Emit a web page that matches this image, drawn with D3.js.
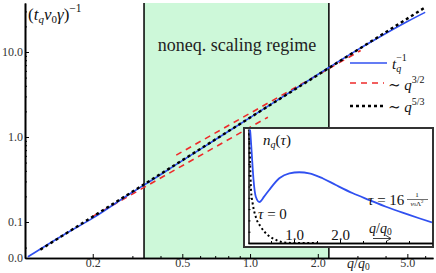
<!DOCTYPE html>
<html><head><meta charset="utf-8">
<script src="https://cdn.jsdelivr.net/npm/d3@7"></script>
<style>body{margin:0;background:#fff}svg{display:block}text{font-family:"Liberation Serif","DejaVu Serif",serif}</style>
</head><body><svg id="c" width="436" height="273"></svg>
<script>
// ---- main curve t_q^{-1} ----
const rateQ = [0.103, 0.15, 0.2, 0.3, 0.338, 0.5, 0.7, 1.0, 1.5, 2.24, 3.0, 3.78, 5.0, 6.0];
const rateV = [0.0389, 0.0718, 0.111, 0.224, 0.272, 0.527, 0.927, 1.69, 3.35, 6.57, 10.6, 15.1, 22.8, 29.3];
// ---- power-law guides (end points) ----
const fitLowQ = [0.2, 1.2],   fitLowV = [0.116, 1.71];   // ~q^{3/2}
const fitHighQ = [0.47, 3.1], fitHighV = [0.612, 10.4];  // ~q^{3/2}
const fit53Q = [0.117, 6.0],  fit53V = [0.0473, 33.5];   // ~q^{5/3}
const regime = [0.338, 2.24];
// ---- ticks ----
const xDomain = [0.1, 6.5];
const yDomain = [0.0377, 37.7];
const xTickVals = [0.2, 0.5, 1, 2, 5];
const xTickLabels = ["0.2", "0.5", "1.0", "2.0", "5.0"];
const xMinor = [0.3, 0.4, 0.6, 0.7, 0.8, 0.9, 3, 4, 6];
const yTickVals = [0.0377, 0.1, 1, 10];
const yTickLabels = ["0.0", "0.1", "1.0", "10.0"];
const yMinor = [0.05, 0.2, 0.3, 0.4, 0.5, 0.6, 0.7, 0.8, 0.9, 2, 3, 4, 5, 6, 7, 8, 9, 20, 30];
// ---- inset n_q(tau) ----
const insetBlueQ = [0.03, 0.05, 0.08, 0.12, 0.17, 0.25, 0.35, 0.46, 0.68, 0.9, 1.115, 1.33, 1.62, 1.91, 2.28, 2.64, 3.0, 3.36, 3.72, 4.0];
const insetBlueN = [1.05, 0.98, 0.80, 0.56, 0.41, 0.363, 0.41, 0.469, 0.573, 0.617, 0.626, 0.617, 0.573, 0.513, 0.44, 0.38, 0.321, 0.268, 0.219, 0.183];
const insetZeroQ = [0.005, 0.02, 0.045, 0.065, 0.1, 0.17, 0.28, 0.43, 0.61, 0.76, 1.0, 1.5];
const insetZeroN = [1.05, 1.0, 0.73, 0.47, 0.354, 0.23, 0.142, 0.071, 0.027, 0.006, 0.0, 0.0];
const insetXTicks = [1, 2];
const insetXLabels = ["1.0", "2.0"];
const insetXMinor = [0.5, 1.5, 2.5, 3, 3.5];
const insetYMinor = [0.1, 0.2, 0.3, 0.4, 0.5, 0.6, 0.7, 0.8, 0.9];

const svg = d3.select("#c");
const x = d3.scaleLog().domain(xDomain).range([25, 433]);
const y = d3.scaleLog().domain(yDomain).range([258, 3]);
const BLUE = "#3050f0", RED = "#ee2a2a";

// regime band
svg.append("rect").attr("x", x(regime[0])).attr("y", 3)
  .attr("width", x(regime[1]) - x(regime[0])).attr("height", 255).attr("fill", "#cdf8d9");
regime.forEach(q => svg.append("line").attr("x1", x(q)).attr("x2", x(q)).attr("y1", 3).attr("y2", 258)
  .attr("stroke", "#000").attr("stroke-width", 1.5));

svg.append("text").attr("x", 237).attr("y", 51).attr("text-anchor", "middle")
  .attr("font-size", 18).attr("fill", "#222").text("noneq. scaling regime");

// axes
const gy = svg.append("g").attr("transform", "translate(25,0)")
  .call(d3.axisLeft(y).tickValues(yTickVals).tickFormat((d, i) => yTickLabels[i]).tickSizeInner(-4).tickSizeOuter(0).tickPadding(2));
gy.append("g").call(d3.axisLeft(y).tickValues(yMinor).tickFormat("").tickSizeInner(-2).tickSizeOuter(0));
const gx = svg.append("g").attr("transform", "translate(0,258)")
  .call(d3.axisBottom(x).tickValues(xTickVals).tickFormat((d, i) => xTickLabels[i]).tickSizeInner(-4).tickSizeOuter(0).tickPadding(0));
gx.append("g").call(d3.axisBottom(x).tickValues(xMinor).tickFormat("").tickSizeInner(-2).tickSizeOuter(0));
[gx, gy].forEach(g => {
  g.selectAll(".domain").attr("stroke", "#000").attr("stroke-width", 1.6);
  g.selectAll(".tick line").attr("stroke", "#000");
  g.selectAll(".tick text").attr("font-family", "Liberation Serif").attr("font-size", 12).attr("fill", "#333");
});

// curves
const line = d3.line().x(d => x(d[0])).y(d => y(d[1]));
svg.append("path").datum(d3.zip(fitLowQ, fitLowV)).attr("d", line)
  .attr("fill", "none").attr("stroke", RED).attr("stroke-width", 1.6).attr("stroke-dasharray", "6,5");
svg.append("path").datum(d3.zip(fitHighQ, fitHighV)).attr("d", line)
  .attr("fill", "none").attr("stroke", RED).attr("stroke-width", 1.6).attr("stroke-dasharray", "6,5");
svg.append("path").datum(d3.zip(rateQ, rateV)).attr("d", line.curve(d3.curveMonotoneX))
  .attr("fill", "none").attr("stroke", BLUE).attr("stroke-width", 1.6);
svg.append("path").datum(d3.zip(fit53Q, fit53V)).attr("d", d3.line().x(d => x(d[0])).y(d => y(d[1])))
  .attr("fill", "none").attr("stroke", "#000").attr("stroke-width", 2.4).attr("stroke-dasharray", "3,3");

// y title
const yt = svg.append("text").attr("x", 28).attr("y", 20).attr("font-size", 17).attr("fill", "#111");
yt.append("tspan").text("(");
yt.append("tspan").attr("font-style", "italic").text("t");
yt.append("tspan").attr("font-style", "italic").attr("font-size", 11).attr("dy", 3).text("q");
yt.append("tspan").attr("font-style", "italic").attr("dy", -3).text("v");
yt.append("tspan").attr("font-size", 11).attr("dy", 3).text("0");
yt.append("tspan").attr("font-style", "italic").attr("dy", -3).text("γ");
yt.append("tspan").text(")");
yt.append("tspan").attr("font-size", 11.5).attr("dy", -8).text("−1");

// x title
const xt = svg.append("text").attr("x", 347).attr("y", 268).attr("font-size", 14).attr("fill", "#222");
xt.append("tspan").attr("font-style", "italic").text("q");
xt.append("tspan").text("/");
xt.append("tspan").attr("font-style", "italic").text("q");
xt.append("tspan").attr("font-size", 9.5).attr("dy", 2).text("0");

// legend
const lg = svg.append("g");
lg.append("line").attr("x1", 350).attr("x2", 387).attr("y1", 63).attr("y2", 63).attr("stroke", BLUE).attr("stroke-width", 1.6);
lg.append("line").attr("x1", 350).attr("x2", 384).attr("y1", 83).attr("y2", 83).attr("stroke", RED).attr("stroke-width", 1.6).attr("stroke-dasharray", "6,5");
lg.append("line").attr("x1", 350).attr("x2", 385).attr("y1", 106).attr("y2", 106).attr("stroke", "#000").attr("stroke-width", 2.4).attr("stroke-dasharray", "3,3");
const l1 = lg.append("text").attr("x", 392).attr("y", 69).attr("font-size", 15).attr("fill", "#111");
l1.append("tspan").attr("font-style", "italic").text("t");
l1.append("tspan").attr("font-style", "italic").attr("font-size", 10).attr("dy", 3).text("q");
l1.append("tspan").attr("font-size", 10).attr("dy", -11).attr("dx", -5).text("−1");
const l2 = lg.append("text").attr("x", 388).attr("y", 90).attr("font-size", 15).attr("fill", "#111");
l2.append("tspan").text("∼ ");
l2.append("tspan").attr("font-style", "italic").text("q");
l2.append("tspan").attr("font-size", 10).attr("dy", -7).text("3/2");
const l3 = lg.append("text").attr("x", 388).attr("y", 112).attr("font-size", 15).attr("fill", "#111");
l3.append("tspan").text("∼ ");
l3.append("tspan").attr("font-style", "italic").text("q");
l3.append("tspan").attr("font-size", 10).attr("dy", -7).text("5/3");

// ---- inset ----
const ix = d3.scaleLinear().domain([0, 4]).range([248, 432]);
const iy = d3.scaleLinear().domain([0, 1]).range([243, 130]);
const ins = svg.append("g");
ins.append("rect").attr("x", 244).attr("y", 128).attr("width", 189).attr("height", 119)
  .attr("fill", "#fff").attr("stroke", "#333").attr("stroke-width", 2);
svg.append("defs").append("clipPath").attr("id", "ic").append("rect")
  .attr("x", 245).attr("y", 129.5).attr("width", 187).attr("height", 116);
const gix = ins.append("g").attr("transform", "translate(0,243)")
  .call(d3.axisBottom(ix).tickValues(insetXTicks).tickFormat((d, i) => insetXLabels[i]).tickSizeInner(-3).tickSizeOuter(0).tickPadding(0));
gix.append("g").call(d3.axisBottom(ix).tickValues(insetXMinor).tickFormat("").tickSizeInner(-2).tickSizeOuter(0));
const giy = ins.append("g").attr("transform", "translate(248.5,0)")
  .call(d3.axisLeft(iy).tickValues(insetYMinor).tickFormat("").tickSizeInner(-2).tickSizeOuter(0));
[gix, giy].forEach(g => {
  g.selectAll(".domain").attr("stroke", "#000").attr("stroke-width", 1.4);
  g.selectAll(".tick line").attr("stroke", "#000");
});
gix.selectAll(".tick text").attr("font-family", "Liberation Serif").attr("font-size", 15).attr("fill", "#111")
  .attr("dy", "-0.2em");

const il = d3.line().x(d => ix(d[0])).y(d => iy(d[1])).curve(d3.curveMonotoneX);
const ic = ins.append("g").attr("clip-path", "url(#ic)");
ic.append("path").datum(d3.zip(insetZeroQ, insetZeroN)).attr("d", il)
  .attr("fill", "none").attr("stroke", "#000").attr("stroke-width", 2).attr("stroke-dasharray", "2,2.6");
ic.append("path").datum(d3.zip(insetBlueQ, insetBlueN)).attr("d", il)
  .attr("fill", "none").attr("stroke", BLUE).attr("stroke-width", 1.8);

const nt = ins.append("text").attr("x", 263).attr("y", 145).attr("font-size", 15).attr("fill", "#111");
nt.append("tspan").attr("font-style", "italic").text("n");
nt.append("tspan").attr("font-style", "italic").attr("font-size", 10).attr("dy", 3).text("q");
nt.append("tspan").attr("dy", -3).text("(");
nt.append("tspan").attr("font-style", "italic").text("τ");
nt.append("tspan").text(")");

const t0 = ins.append("text").attr("x", 258).attr("y", 219).attr("font-size", 15).attr("fill", "#111");
t0.append("tspan").attr("font-style", "italic").text("τ");
t0.append("tspan").text(" = 0");

const t16 = ins.append("text").attr("x", 368).attr("y", 205).attr("font-size", 15).attr("fill", "#111");
t16.append("tspan").attr("font-style", "italic").text("τ");
t16.append("tspan").text(" = 16");
ins.append("text").attr("x", 417).attr("y", 197).attr("text-anchor", "middle").attr("font-size", 7).attr("fill", "#111").text("1");
ins.append("line").attr("x1", 407).attr("x2", 428).attr("y1", 199.5).attr("y2", 199.5).attr("stroke", "#111").attr("stroke-width", 0.6);
const fr = ins.append("text").attr("x", 417).attr("y", 206).attr("text-anchor", "middle").attr("font-size", 7).attr("fill", "#111");
fr.append("tspan").attr("font-style", "italic").text("v");
fr.append("tspan").attr("font-size", 5).text("0");
fr.append("tspan").text("Λ");
fr.append("tspan").attr("font-size", 5).attr("dy", -3).text("2");

const iq = ins.append("text").attr("x", 369).attr("y", 233).attr("font-size", 14).attr("fill", "#111");
iq.append("tspan").attr("font-style", "italic").text("q");
iq.append("tspan").text("/");
iq.append("tspan").attr("font-style", "italic").text("q");
iq.append("tspan").attr("font-size", 9.5).attr("dy", 2).text("0");
ins.append("line").attr("x1", 373).attr("x2", 390).attr("y1", 238.5).attr("y2", 238.5).attr("stroke", "#111").attr("stroke-width", 0.8);
ins.append("path").attr("d", "M386,235.5 L391,238.5 L386,241.5").attr("fill", "none").attr("stroke", "#111").attr("stroke-width", 0.8);
</script></body></html>
